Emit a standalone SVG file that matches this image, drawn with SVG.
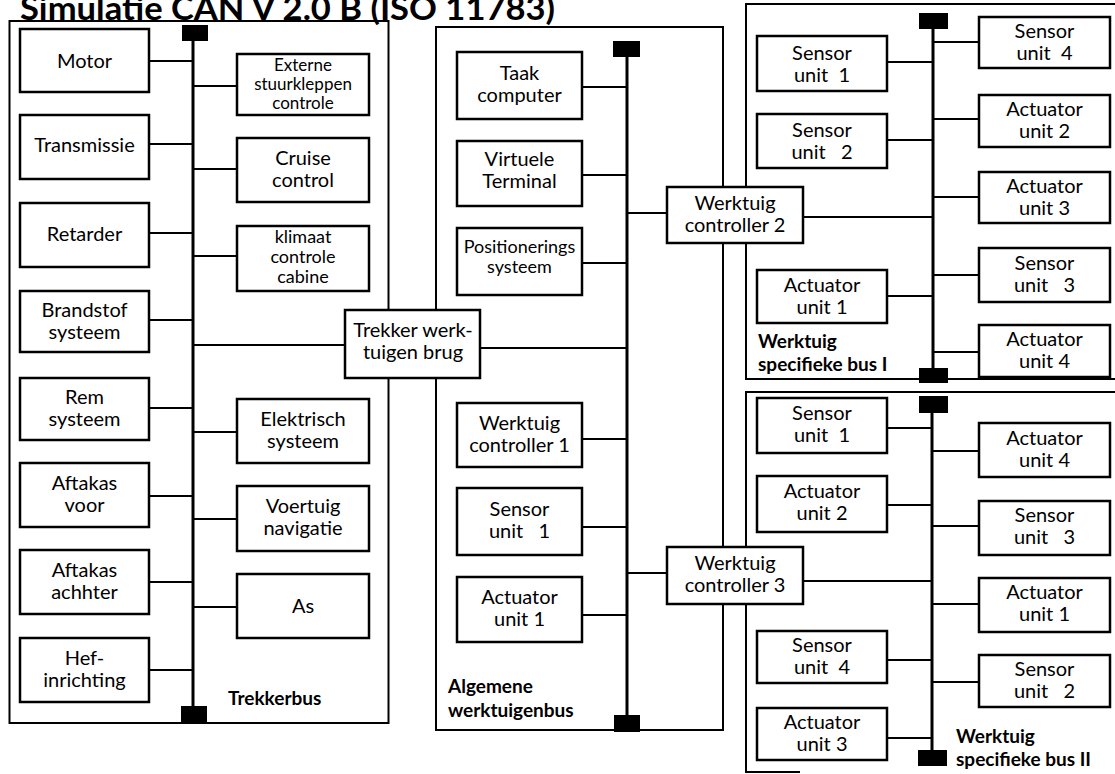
<svg xmlns="http://www.w3.org/2000/svg" width="1115" height="774" viewBox="0 0 1115 774">
<style>
.frame{fill:none;stroke:#000;stroke-width:2}
.box{fill:#fff;stroke:#000;stroke-width:2.5}
.bus{stroke:#000;stroke-width:3;fill:none}
.term{fill:#000}
.conn{stroke:#000;stroke-width:2;fill:none}
text{font-family:Lato,"Open Sans","Liberation Sans",sans-serif;fill:#000}
.t{font-size:20px;text-anchor:middle}
.s{font-size:18px;text-anchor:middle}
.xs{font-size:17px;text-anchor:middle}
.lbl{font-size:19px;font-weight:bold}
.title{font-size:32px;font-weight:bold}
</style>
<rect width="1115" height="774" fill="#fff"/>
<text class="title" x="20" y="20" textLength="535" lengthAdjust="spacingAndGlyphs">Simulatie CAN V 2.0 B (ISO 11783)</text>

<g id="panels">
<rect class="frame" x="9.5" y="21" width="379" height="702"/>
<rect class="frame" x="436" y="27" width="287" height="703"/>
<path class="frame" d="M1115,4 H746 V379 H1115"/>
<path class="frame" d="M1115,392 H746 V772 H800"/>
</g>

<g id="buses">
<line class="bus" x1="193" y1="40" x2="193" y2="707"/>
<rect class="term" x="182" y="25" width="26" height="16"/>
<rect class="term" x="181" y="706" width="26" height="17"/>
<line class="bus" x1="627" y1="56" x2="627" y2="716"/>
<rect class="term" x="613" y="41" width="27" height="16"/>
<rect class="term" x="614" y="715" width="26" height="17"/>
<line class="bus" x1="933" y1="28" x2="933" y2="369"/>
<rect class="term" x="919" y="13" width="29" height="16"/>
<rect class="term" x="919" y="368" width="29" height="15"/>
<line class="bus" x1="932" y1="412" x2="932" y2="751"/>
<rect class="term" x="919" y="396" width="29" height="17"/>
<rect class="term" x="918" y="750" width="29" height="16"/>
</g>

<g id="connectors">
<line class="conn" x1="149" y1="61" x2="193" y2="61"/>
<line class="conn" x1="149" y1="144" x2="193" y2="144"/>
<line class="conn" x1="149" y1="233" x2="193" y2="233"/>
<line class="conn" x1="149" y1="320" x2="193" y2="320"/>
<line class="conn" x1="149" y1="408" x2="193" y2="408"/>
<line class="conn" x1="149" y1="496" x2="193" y2="496"/>
<line class="conn" x1="149" y1="582" x2="193" y2="582"/>
<line class="conn" x1="149" y1="670" x2="193" y2="670"/>
<line class="conn" x1="193" y1="86" x2="237" y2="86"/>
<line class="conn" x1="193" y1="169" x2="237" y2="169"/>
<line class="conn" x1="193" y1="256" x2="237" y2="256"/>
<line class="conn" x1="193" y1="432" x2="237" y2="432"/>
<line class="conn" x1="193" y1="519" x2="237" y2="519"/>
<line class="conn" x1="193" y1="607" x2="237" y2="607"/>
<line class="conn" x1="193" y1="345" x2="345" y2="345"/>
<line class="conn" x1="480" y1="348" x2="627" y2="348"/>
<line class="conn" x1="582" y1="87" x2="627" y2="87"/>
<line class="conn" x1="582" y1="175" x2="627" y2="175"/>
<line class="conn" x1="582" y1="263" x2="627" y2="263"/>
<line class="conn" x1="582" y1="439" x2="627" y2="439"/>
<line class="conn" x1="582" y1="527" x2="627" y2="527"/>
<line class="conn" x1="582" y1="615" x2="627" y2="615"/>
<line class="conn" x1="627" y1="213" x2="667" y2="213"/>
<line class="conn" x1="803" y1="217" x2="933" y2="217"/>
<line class="conn" x1="627" y1="573" x2="667" y2="573"/>
<line class="conn" x1="803" y1="581" x2="932" y2="581"/>
<line class="conn" x1="887" y1="62" x2="933" y2="62"/>
<line class="conn" x1="887" y1="140" x2="933" y2="140"/>
<line class="conn" x1="887" y1="296" x2="933" y2="296"/>
<line class="conn" x1="933" y1="42" x2="979" y2="42"/>
<line class="conn" x1="933" y1="119" x2="979" y2="119"/>
<line class="conn" x1="933" y1="197" x2="979" y2="197"/>
<line class="conn" x1="933" y1="275" x2="979" y2="275"/>
<line class="conn" x1="933" y1="352" x2="979" y2="352"/>
<line class="conn" x1="887" y1="428" x2="932" y2="428"/>
<line class="conn" x1="887" y1="505" x2="932" y2="505"/>
<line class="conn" x1="887" y1="660" x2="932" y2="660"/>
<line class="conn" x1="887" y1="738" x2="932" y2="738"/>
<line class="conn" x1="932" y1="451" x2="979" y2="451"/>
<line class="conn" x1="932" y1="526" x2="979" y2="526"/>
<line class="conn" x1="932" y1="604" x2="979" y2="604"/>
<line class="conn" x1="932" y1="682" x2="979" y2="682"/>
</g>

<!-- Trekkerbus left column -->
<g id="motor"><rect class="box" x="20" y="29" width="129" height="63"/><text class="t" x="84.5" y="68">Motor</text></g>
<g id="transmissie"><rect class="box" x="20" y="115" width="129" height="64"/><text class="t" x="84.5" y="152">Transmissie</text></g>
<g id="retarder"><rect class="box" x="20" y="203" width="129" height="64"/><text class="t" x="84.5" y="241">Retarder</text></g>
<g id="brandstof"><rect class="box" x="20" y="291" width="129" height="61"/><text class="t" x="84.5" y="317">Brandstof</text><text class="t" x="84.5" y="339">systeem</text></g>
<g id="rem"><rect class="box" x="20" y="378" width="129" height="62"/><text class="t" x="84.5" y="404">Rem</text><text class="t" x="84.5" y="426">systeem</text></g>
<g id="aftakas-voor"><rect class="box" x="20" y="463" width="129" height="64"/><text class="t" x="84.5" y="490">Aftakas</text><text class="t" x="84.5" y="512">voor</text></g>
<g id="aftakas-achter"><rect class="box" x="20" y="550" width="129" height="64"/><text class="t" x="84.5" y="577">Aftakas</text><text class="t" x="84.5" y="599">achhter</text></g>
<g id="hefinrichting"><rect class="box" x="20" y="638" width="129" height="64"/><text class="t" x="84.5" y="665">Hef-</text><text class="t" x="84.5" y="687">inrichting</text></g>

<!-- Trekkerbus right column -->
<g id="externe"><rect class="box" x="237" y="54" width="132" height="61"/><text class="xs" x="303" y="71">Externe</text><text class="xs" x="303" y="90">stuurkleppen</text><text class="xs" x="303" y="109">controle</text></g>
<g id="cruise"><rect class="box" x="237" y="138" width="132" height="64"/><text class="t" x="303" y="165">Cruise</text><text class="t" x="303" y="187">control</text></g>
<g id="klimaat"><rect class="box" x="237" y="226" width="132" height="65"/><text class="s" x="303" y="243">klimaat</text><text class="s" x="303" y="263">controle</text><text class="s" x="303" y="283">cabine</text></g>
<g id="elektrisch"><rect class="box" x="237" y="399" width="132" height="64"/><text class="t" x="303" y="426">Elektrisch</text><text class="t" x="303" y="448">systeem</text></g>
<g id="voertuig"><rect class="box" x="237" y="486" width="132" height="65"/><text class="t" x="303" y="513">Voertuig</text><text class="t" x="303" y="535">navigatie</text></g>
<g id="as"><rect class="box" x="237" y="574" width="132" height="64"/><text class="t" x="303" y="613">As</text></g>
<text class="lbl" x="228" y="705">Trekkerbus</text>

<!-- Bridge -->
<g id="brug"><rect class="box" x="345" y="310" width="135" height="68"/><text class="t" x="413" y="337">Trekker werk-</text><text class="t" x="413" y="359">tuigen brug</text></g>

<!-- Algemene werktuigenbus -->
<g id="taak"><rect class="box" x="457" y="52" width="125" height="67"/><text class="t" x="519.5" y="80">Taak</text><text class="t" x="519.5" y="102">computer</text></g>
<g id="virtuele"><rect class="box" x="457" y="141" width="125" height="65"/><text class="t" x="519.5" y="166">Virtuele</text><text class="t" x="519.5" y="188">Terminal</text></g>
<g id="positionerings"><rect class="box" x="457" y="228" width="125" height="67"/><text class="s" x="519.5" y="253">Positionerings</text><text class="s" x="519.5" y="273">systeem</text></g>
<g id="wc1"><rect class="box" x="457" y="403" width="125" height="64"/><text class="t" x="519.5" y="430">Werktuig</text><text class="t" x="519.5" y="452">controller 1</text></g>
<g id="sensor1-alg"><rect class="box" x="457" y="488" width="125" height="67"/><text class="t" x="519.5" y="516">Sensor</text><text class="t" x="519.5" y="538" xml:space="preserve">unit   1</text></g>
<g id="actuator1-alg"><rect class="box" x="457" y="577" width="125" height="65"/><text class="t" x="519.5" y="604">Actuator</text><text class="t" x="519.5" y="626">unit 1</text></g>
<text class="lbl" x="448" y="693">Algemene</text>
<text class="lbl" x="448" y="717">werktuigenbus</text>

<g id="wc2"><rect class="box" x="667" y="187" width="136" height="56"/><text class="t" x="735" y="210">Werktuig</text><text class="t" x="735" y="232">controller 2</text></g>
<g id="wc3"><rect class="box" x="667" y="547" width="136" height="57"/><text class="t" x="735" y="570">Werktuig</text><text class="t" x="735" y="592">controller 3</text></g>

<!-- Werktuig specifieke bus I -->
<g id="b1-sensor1"><rect class="box" x="757" y="36" width="130" height="55"/><text class="t" x="822" y="60">Sensor</text><text class="t" x="822" y="82" xml:space="preserve">unit  1</text></g>
<g id="b1-sensor2"><rect class="box" x="757" y="114" width="130" height="54"/><text class="t" x="822" y="137">Sensor</text><text class="t" x="822" y="159" xml:space="preserve">unit   2</text></g>
<g id="b1-actuator1"><rect class="box" x="757" y="270" width="130" height="53"/><text class="t" x="822" y="292">Actuator</text><text class="t" x="822" y="314">unit 1</text></g>
<g id="b1-sensor4"><rect class="box" x="979" y="17" width="131" height="51"/><text class="t" x="1044.5" y="38">Sensor</text><text class="t" x="1044.5" y="60" xml:space="preserve">unit  4</text></g>
<g id="b1-actuator2"><rect class="box" x="979" y="95" width="131" height="52"/><text class="t" x="1044.5" y="116">Actuator</text><text class="t" x="1044.5" y="138">unit 2</text></g>
<g id="b1-actuator3"><rect class="box" x="979" y="172" width="131" height="51"/><text class="t" x="1044.5" y="193">Actuator</text><text class="t" x="1044.5" y="215">unit 3</text></g>
<g id="b1-sensor3"><rect class="box" x="979" y="248" width="131" height="54"/><text class="t" x="1044.5" y="270">Sensor</text><text class="t" x="1044.5" y="292" xml:space="preserve">unit   3</text></g>
<g id="b1-actuator4"><rect class="box" x="979" y="325" width="131" height="52"/><text class="t" x="1044.5" y="346">Actuator</text><text class="t" x="1044.5" y="368">unit 4</text></g>
<text class="lbl" x="758" y="348">Werktuig</text>
<text class="lbl" x="758" y="371">specifieke bus I</text>

<!-- Werktuig specifieke bus II -->
<g id="b2-sensor1"><rect class="box" x="757" y="398" width="130" height="55"/><text class="t" x="822" y="420">Sensor</text><text class="t" x="822" y="442" xml:space="preserve">unit  1</text></g>
<g id="b2-actuator2"><rect class="box" x="757" y="476" width="130" height="56"/><text class="t" x="822" y="498">Actuator</text><text class="t" x="822" y="520">unit 2</text></g>
<g id="b2-sensor4"><rect class="box" x="757" y="631" width="130" height="52"/><text class="t" x="822" y="652">Sensor</text><text class="t" x="822" y="674" xml:space="preserve">unit  4</text></g>
<g id="b2-actuator3"><rect class="box" x="757" y="708" width="130" height="52"/><text class="t" x="822" y="729">Actuator</text><text class="t" x="822" y="751">unit 3</text></g>
<g id="b2-actuator4"><rect class="box" x="979" y="423" width="131" height="54"/><text class="t" x="1044.5" y="445">Actuator</text><text class="t" x="1044.5" y="467">unit 4</text></g>
<g id="b2-sensor3"><rect class="box" x="979" y="501" width="131" height="54"/><text class="t" x="1044.5" y="522">Sensor</text><text class="t" x="1044.5" y="544" xml:space="preserve">unit   3</text></g>
<g id="b2-actuator1"><rect class="box" x="979" y="578" width="131" height="54"/><text class="t" x="1044.5" y="599">Actuator</text><text class="t" x="1044.5" y="621">unit 1</text></g>
<g id="b2-sensor2"><rect class="box" x="979" y="655" width="131" height="52"/><text class="t" x="1044.5" y="676">Sensor</text><text class="t" x="1044.5" y="698" xml:space="preserve">unit   2</text></g>
<text class="lbl" x="956" y="743">Werktuig</text>
<text class="lbl" x="956" y="766">specifieke bus II</text>
</svg>
